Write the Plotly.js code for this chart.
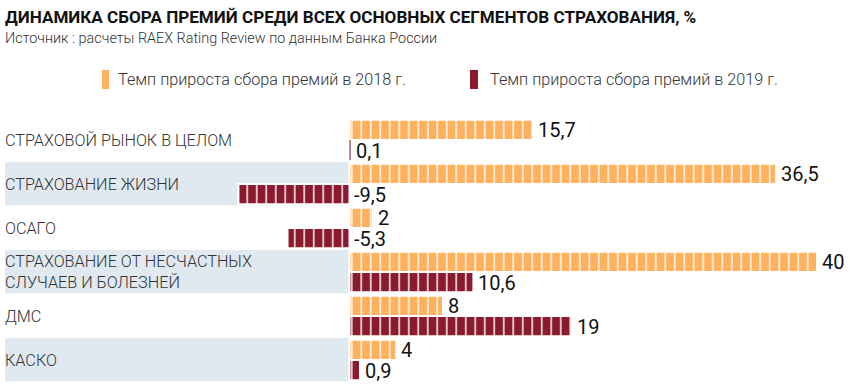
<!DOCTYPE html>
<html>
<head>
<meta charset="utf-8">
<script src="https://cdn.plot.ly/plotly-3.0.1.min.js"></script>
<style>
html,body{margin:0;padding:0;background:#fff;}
#chart{width:850px;height:385px;}
</style>
</head>
<body>
<div id="chart"></div>
<script>
// ---- data ----
const categories = ["РЫНОК", "ЖИЗНЬ", "ОСАГО", "НС", "ДМС", "КАСКО"];
const categoryLabels = [
  "СТРАХОВОЙ РЫНОК В ЦЕЛОМ",
  "СТРАХОВАНИЕ ЖИЗНИ",
  "ОСАГО",
  "СТРАХОВАНИЕ ОТ НЕСЧАСТНЫХ<br>СЛУЧАЕВ И БОЛЕЗНЕЙ",
  "ДМС",
  "КАСКО"
];
const growth2018 = [15.7, 36.5, 2, 40, 8, 4];
const growth2019 = [0.1, -9.5, -5.3, 10.6, 19, 0.9];
const seriesNames = ["Темп прироста сбора премий в 2018 г.", "Темп прироста сбора премий в 2019 г."];
const titleText = "ДИНАМИКА СБОРА ПРЕМИЙ СРЕДИ ВСЕХ ОСНОВНЫХ СЕГМЕНТОВ СТРАХОВАНИЯ, %";
const subtitleText = "Источник : расчеты RAEX Rating Review по данным Банка России";

// ---- styling ----
const ORANGE = "#ffb15e";
const MAROON = "#8a1b2f";
const BAND = "#e0e9f0";
const W = 850, H = 385;
const M = {l: 5, r: 5, t: 118, b: 3};
const PW = W - M.l - M.r, PH = H - M.t - M.b;
const px2x = px => (px - M.l) / PW;
const px2y = py => 1 + (M.t - py) / PH;
const XR = [-29.47, 42.39];

const fmt = v => String(v).replace(".", ",");
const lineW = arr => arr.map(v => Math.abs(v) < 0.5 ? 0 : 2);

function barTrace(vals, color, name) {
  return {
    type: "bar", orientation: "h", name: name,
    y: categories, x: vals,
    marker: {
      color: color,
      line: {color: "#ffffff", width: lineW(vals)},
      pattern: {shape: "|", fillmode: "replace", bgcolor: color, fgcolor: "#ffffff", size: 9.5, solidity: 0.15}
    },
    hoverinfo: "skip", showlegend: false, cliponaxis: false
  };
}

const traces = [
  barTrace(growth2018, ORANGE, seriesNames[0]),
  barTrace(growth2019, MAROON, seriesNames[1])
];

const shapes = [];
categories.forEach((c, i) => {
  if (i % 2 === 1) {
    shapes.push({type: "rect", layer: "below", xref: "x", yref: "y",
      x0: XR[0], x1: 0, y0: i - 0.5, y1: i + 0.49,
      fillcolor: BAND, line: {width: 0}});
  }
});
// legend swatches
[[102, 109, ORANGE], [470, 478, MAROON]].forEach(s => {
  shapes.push({type: "rect", xref: "paper", yref: "paper",
    x0: px2x(s[0]), x1: px2x(s[1]), y0: px2y(89), y1: px2y(70),
    fillcolor: s[2], line: {width: 0}});
});

const FONT = "Roboto, 'DejaVu Sans', sans-serif";
const annotations = [];
annotations.push({xref: "paper", yref: "paper", x: 0, y: px2y(17), xanchor: "left", yanchor: "middle",
  xshift: -2, showarrow: false, text: "<b>" + titleText + "</b>",
  font: {family: "Roboto, sans-serif", size: 17.1, color: "#111"}});
annotations.push({xref: "paper", yref: "paper", x: 0, y: px2y(38), xanchor: "left", yanchor: "middle",
  xshift: -2, showarrow: false, text: subtitleText,
  font: {family: FONT, size: 14.4, color: "#333", weight: 300}});
[[118, seriesNames[0]], [490, seriesNames[1]]].forEach(l => {
  annotations.push({xref: "paper", yref: "paper", x: px2x(l[0]), y: px2y(80), xanchor: "left", yanchor: "middle",
    xshift: -2, showarrow: false, text: l[1],
    font: {family: FONT, size: 16.2, color: "#333", weight: 300}});
});
categories.forEach((c, i) => {
  annotations.push({xref: "paper", yref: "y", x: 0, y: c, xanchor: "left", yanchor: "middle",
    xshift: -2, showarrow: false, align: "left", text: categoryLabels[i],
    font: {family: FONT, size: 16.2, color: "#333", weight: 300}});
});
[[growth2018, 10], [growth2019, -10.5]].forEach(([vals, ys]) => {
  vals.forEach((v, i) => {
    annotations.push({xref: "x", yref: "y", x: Math.max(v, 0), y: categories[i],
      xanchor: "left", yanchor: "middle", xshift: 3, yshift: ys, showarrow: false,
      text: fmt(v), font: {family: FONT, size: 20, color: "#111", weight: 400}});
  });
});

const layout = {
  width: W, height: H, margin: M,
  paper_bgcolor: "#fff", plot_bgcolor: "rgba(0,0,0,0)",
  barmode: "group", bargap: 0.08, bargroupgap: 0,
  showlegend: false,
  xaxis: {range: XR, visible: false, fixedrange: true},
  yaxis: {type: "category", range: [5.5, -0.5], visible: false, fixedrange: true},
  shapes: shapes, annotations: annotations
};
Plotly.newPlot("chart", traces, layout, {displayModeBar: false, staticPlot: true});
</script>
</body>
</html>
